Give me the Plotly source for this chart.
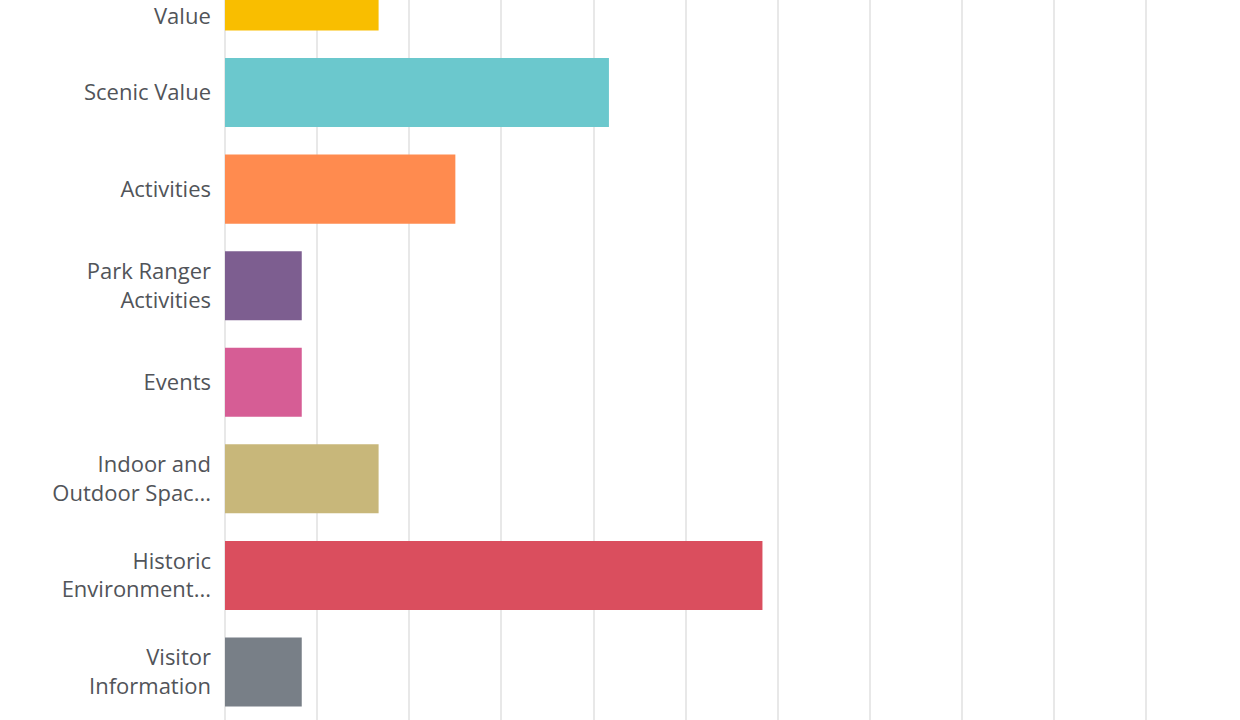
import plotly.graph_objects as go

# survey answers, top to bottom (first label is cut off in the source, only "Value" shows)
categories = ["Value", "Scenic Value", "Activities", "Park Ranger<br>Activities", "Events",
              "Indoor and<br>Outdoor Spac...", "Historic<br>Environment...", "Visitor<br>Information"]
percent = [16.67, 41.67, 25.0, 8.33, 8.33, 16.67, 58.33, 8.33]
colors = ["#F9BE00", "#6BC8CD", "#FF8B4F", "#7D5E90", "#D65D95", "#C8B77A", "#DA4E5E", "#787F87"]
grid_ticks = [0, 10, 20, 30, 40, 50, 60, 70, 80, 90, 100]

# the picture is a crop: top bar is partly cut off
y_bottom, y_top = 7.497, 0.042

fig = go.Figure()
fig.add_trace(go.Bar(y=categories, x=percent, orientation="h",
                     marker=dict(color=colors, line=dict(width=0)),
                     showlegend=False, hoverinfo="skip"))

# the top tick sits just above the visible area, so plotly drops its label;
# only the second line of that label is visible -> annotation shifted down
fig.add_annotation(x=0, xref="paper", y=y_bottom / (y_bottom - y_top), yref="paper",
                   text=categories[0], showarrow=False,
                   xanchor="right", yanchor="middle", align="right",
                   xshift=-13, yshift=-19, borderpad=0)

fig.update_layout(
    width=1240, height=720,
    margin=dict(l=225, r=89, t=0, b=0),
    paper_bgcolor="white", plot_bgcolor="white",
    bargap=0.285,
    font=dict(family="Open Sans", size=22, color="#515459"),
)
fig.update_xaxes(range=[0, 100.5], tickvals=grid_ticks, showticklabels=False,
                 showgrid=True, gridcolor="#E8E8E8", gridwidth=2,
                 zeroline=True, zerolinecolor="#E8E8E8", zerolinewidth=2,
                 showline=False)
fig.update_yaxes(type="category", range=[y_bottom, y_top], showgrid=False,
                 zeroline=False, showline=False, ticks="", ticklabelstandoff=13)

fig.write_html("out.html", config={"displayModeBar": False},
               post_script="document.body.style.margin='0';")
